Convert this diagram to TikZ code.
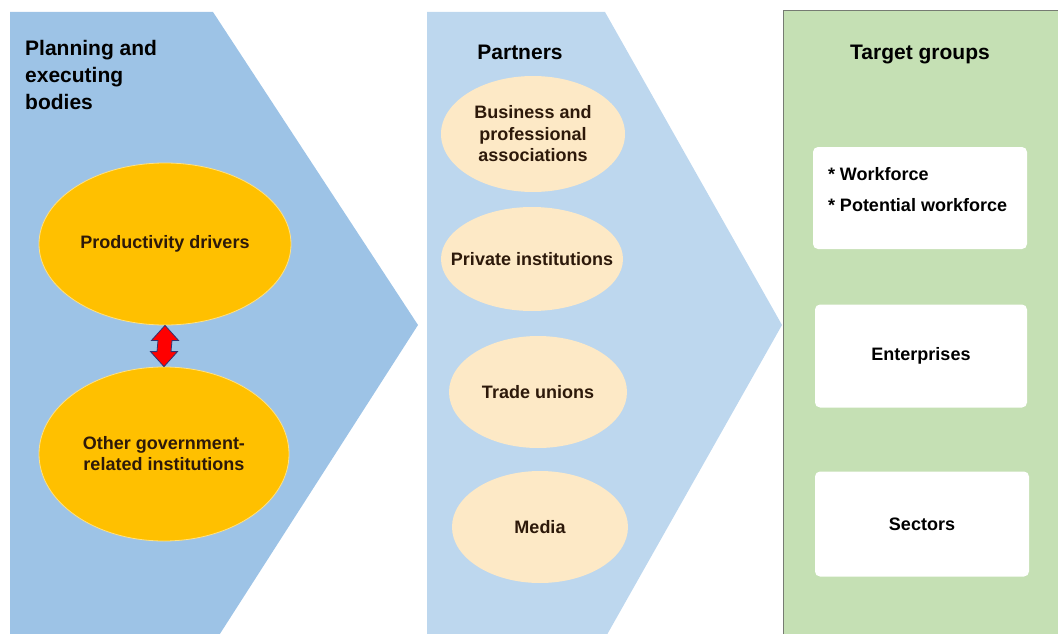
\documentclass[tikz,border=0pt]{standalone}
\usepackage{fontspec}
\setmainfont{Liberation Sans}
\usetikzlibrary{shapes.geometric,calc}
\definecolor{bodyblue}{RGB}{157,195,230}
\definecolor{partblue}{RGB}{189,215,238}
\definecolor{targetgreen}{RGB}{197,224,180}
\definecolor{drvorange}{RGB}{255,192,0}
\definecolor{drvedge}{RGB}{255,225,130}
\definecolor{partcream}{RGB}{253,233,198}
\definecolor{inktext}{RGB}{45,25,10}
\tikzset{
  drv/.style={ellipse, fill=drvorange, draw=drvedge, line width=0.8pt, inner sep=-40pt,
    align=center, text=inktext, font=\bfseries\fontsize{18}{21}\selectfont},
  prt/.style={ellipse, fill=partcream, draw=none, inner sep=-40pt,
    align=center, text=inktext, font=\bfseries\fontsize{18}{21.5}\selectfont},
  tgtbox/.style={rectangle, rounded corners=5pt, fill=white, draw=none, inner sep=0pt,
    font=\bfseries\fontsize{18}{31}\selectfont},
  head/.style={inner sep=0pt, font=\bfseries\fontsize{21}{27}\selectfont},
  biarrow/.style={fill=red, draw=blue!30!black!80, line width=0.8pt, line join=miter}
}
\begin{document}
\begin{tikzpicture}[x=1pt, y=-1pt]
    \useasboundingbox (0,0) rectangle (1058,634);
    \clip (0,0) rectangle (1058,634);

    \fill[bodyblue] (10,12) -- (213,12) -- (418,325) -- (216,640) -- (10,640) -- cycle;
    \fill[partblue] (427,12) -- (605,12) -- (782,325) -- (604,640) -- (427,640) -- cycle;
    \draw[targetgreen!30!black!70, fill=targetgreen, line width=0.8pt] (783,10) rectangle (1070,650);

    \node[head, anchor=north west, align=left] (plan) at (25,40) {Planning and\\executing\\bodies};
    \node[head] (partners) at (520,52) {Partners};
    \node[head] (target) at (920,55) {Target groups};

    \node[drv, minimum width=252pt, minimum height=162pt] (prod) at (165,244) {Productivity drivers};
    \node[drv, minimum width=250pt, minimum height=174pt] (other) at (164,454) {Other government-\\related institutions};
    \draw[biarrow] (prod.south) -- ++(13.5,15) -- ++(-6.5,0) -- ($(other.north)+(7,-15)$) -- ++(6.5,0)
        -- (other.north) -- ++(-13.5,-15) -- ++(6.5,0) -- ($(prod.south)+(-7,15)$) -- ++(-6.5,0) -- cycle;

    \node[prt, minimum width=184pt, minimum height=116pt] (assoc) at (533,134) {Business and\\professional\\associations};
    \node[prt, minimum width=182pt, minimum height=104pt] (priv) at (532,259) {Private institutions};
    \node[prt, minimum width=178pt, minimum height=112pt] (unions) at (538,392) {Trade unions};
    \node[prt, minimum width=176pt, minimum height=112pt] (media) at (540,527) {Media};

    \node[tgtbox, minimum width=214pt, minimum height=102pt] (work) at (920,198) {};
    \node[tgtbox, anchor=west, align=left] at ($(work.west)+(15,-8)$) {* Workforce\\* Potential workforce};
    \node[tgtbox, minimum width=212pt, minimum height=103pt] (ent) at (921,356) {Enterprises};
    \node[tgtbox, minimum width=214pt, minimum height=105pt] (sec) at (922,524) {Sectors};
\end{tikzpicture}
\end{document}
